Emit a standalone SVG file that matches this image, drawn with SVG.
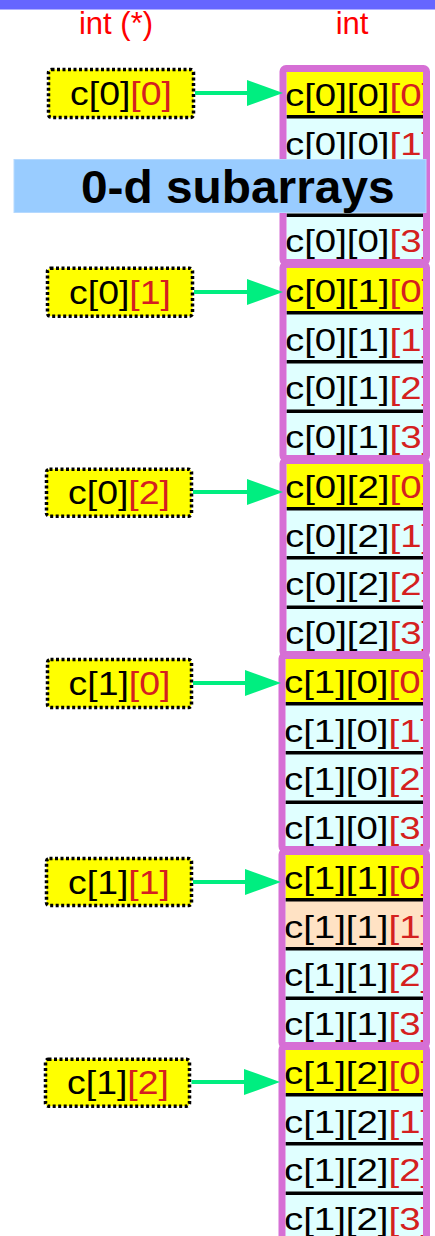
<svg xmlns="http://www.w3.org/2000/svg" width="435" height="1236" viewBox="0 0 435 1236">
<style>
text{font-family:"Liberation Sans",Arial,sans-serif}
.lbl{font-size:31px;fill:#ff0000;text-anchor:middle}
.box{fill:#ffff00;stroke:#000;stroke-width:3.5;stroke-dasharray:3 2.5}
.bt{font-size:34px;fill:#000;text-anchor:middle}
.r{fill:#d42020}
.cell{fill:#e0ffff}
.y{fill:#ffff00}
.pe{fill:#ffe2c4}
.sep{fill:#000}
.ct{font-size:32px;fill:#000}
.blk{fill:none;stroke:#d66fd5;stroke-width:7}
.arr{stroke:#00ee80;stroke-width:4;fill:none}
.title{font-size:46px;font-weight:bold;fill:#000}
</style>
<defs>
<marker id="ah" markerUnits="userSpaceOnUse" markerWidth="36" markerHeight="26" refX="1" refY="13" orient="auto">
<path d="M0,0 L36,13 L0,26 z" fill="#00ee80"/>
</marker>
<clipPath id="colclip"><rect x="0" y="0" width="423" height="1236"/></clipPath>
</defs>
<rect x="0" y="0" width="435" height="9" fill="#6666ff"/>
<rect x="0" y="9" width="435" height="1" fill="#b0b0ff"/>
<text class="lbl" x="116" y="34">int (*)</text>
<text class="lbl" x="352" y="34">int</text>

<g id="array">
<g id="blk00">
<rect class="cell" x="286.5" y="72" width="136.5" height="187"/>
<rect class="y" x="286.5" y="72" width="136.5" height="43"/>
<rect class="sep" x="286.5" y="115" width="136.5" height="3.5"/>
<rect class="sep" x="286.5" y="164" width="136.5" height="3.5"/>
<rect class="sep" x="286.5" y="213.5" width="136.5" height="3.5"/>
<g clip-path="url(#colclip)">
<text class="ct" transform="translate(285 106) scale(1.2 1)">c[0][0]<tspan class="r">[0]</tspan></text>
<text class="ct" transform="translate(285 154.5) scale(1.2 1)">c[0][0]<tspan class="r">[1]</tspan></text>
<text class="ct" transform="translate(285 203) scale(1.2 1)">c[0][0]<tspan class="r">[2]</tspan></text>
<text class="ct" transform="translate(285 251.5) scale(1.2 1)">c[0][0]<tspan class="r">[3]</tspan></text>
</g>
<rect class="blk" x="283" y="68.5" width="143.5" height="194" rx="3"/>
</g>
<g id="blk01">
<rect class="cell" x="286.5" y="268" width="136.5" height="187"/>
<rect class="y" x="286.5" y="268" width="136.5" height="43"/>
<rect class="sep" x="286.5" y="311" width="136.5" height="3.5"/>
<rect class="sep" x="286.5" y="360" width="136.5" height="3.5"/>
<rect class="sep" x="286.5" y="409.5" width="136.5" height="3.5"/>
<g clip-path="url(#colclip)">
<text class="ct" transform="translate(285 302) scale(1.2 1)">c[0][1]<tspan class="r">[0]</tspan></text>
<text class="ct" transform="translate(285 350.5) scale(1.2 1)">c[0][1]<tspan class="r">[1]</tspan></text>
<text class="ct" transform="translate(285 399) scale(1.2 1)">c[0][1]<tspan class="r">[2]</tspan></text>
<text class="ct" transform="translate(285 447.5) scale(1.2 1)">c[0][1]<tspan class="r">[3]</tspan></text>
</g>
<rect class="blk" x="283" y="264.5" width="143.5" height="194" rx="3"/>
</g>
<g id="blk02">
<rect class="cell" x="286.5" y="464" width="136.5" height="187"/>
<rect class="y" x="286.5" y="464" width="136.5" height="43"/>
<rect class="sep" x="286.5" y="507" width="136.5" height="3.5"/>
<rect class="sep" x="286.5" y="556" width="136.5" height="3.5"/>
<rect class="sep" x="286.5" y="605.5" width="136.5" height="3.5"/>
<g clip-path="url(#colclip)">
<text class="ct" transform="translate(285 498) scale(1.2 1)">c[0][2]<tspan class="r">[0]</tspan></text>
<text class="ct" transform="translate(285 546.5) scale(1.2 1)">c[0][2]<tspan class="r">[1]</tspan></text>
<text class="ct" transform="translate(285 595) scale(1.2 1)">c[0][2]<tspan class="r">[2]</tspan></text>
<text class="ct" transform="translate(285 643.5) scale(1.2 1)">c[0][2]<tspan class="r">[3]</tspan></text>
</g>
<rect class="blk" x="283" y="460.5" width="143.5" height="194" rx="3"/>
</g>
<g id="blk10">
<rect class="cell" x="285.5" y="659" width="137.5" height="187"/>
<rect class="y" x="285.5" y="659" width="137.5" height="43"/>
<rect class="sep" x="285.5" y="702" width="137.5" height="3.5"/>
<rect class="sep" x="285.5" y="751" width="137.5" height="3.5"/>
<rect class="sep" x="285.5" y="800.5" width="137.5" height="3.5"/>
<g clip-path="url(#colclip)">
<text class="ct" transform="translate(284 693) scale(1.2 1)">c[1][0]<tspan class="r">[0]</tspan></text>
<text class="ct" transform="translate(284 741.5) scale(1.2 1)">c[1][0]<tspan class="r">[1]</tspan></text>
<text class="ct" transform="translate(284 790) scale(1.2 1)">c[1][0]<tspan class="r">[2]</tspan></text>
<text class="ct" transform="translate(284 838.5) scale(1.2 1)">c[1][0]<tspan class="r">[3]</tspan></text>
</g>
<rect class="blk" x="282" y="655.5" width="144.5" height="194" rx="3"/>
</g>
<g id="blk11">
<rect class="cell" x="285.5" y="855" width="137.5" height="187"/>
<rect class="y" x="285.5" y="855" width="137.5" height="43"/>
<rect class="pe" x="285.5" y="898" width="137.5" height="49"/>
<rect class="sep" x="285.5" y="898" width="137.5" height="3.5"/>
<rect class="sep" x="285.5" y="947" width="137.5" height="3.5"/>
<rect class="sep" x="285.5" y="996.5" width="137.5" height="3.5"/>
<g clip-path="url(#colclip)">
<text class="ct" transform="translate(284 889) scale(1.2 1)">c[1][1]<tspan class="r">[0]</tspan></text>
<text class="ct" transform="translate(284 937.5) scale(1.2 1)">c[1][1]<tspan class="r">[1]</tspan></text>
<text class="ct" transform="translate(284 986) scale(1.2 1)">c[1][1]<tspan class="r">[2]</tspan></text>
<text class="ct" transform="translate(284 1034.5) scale(1.2 1)">c[1][1]<tspan class="r">[3]</tspan></text>
</g>
<rect class="blk" x="282" y="851.5" width="144.5" height="194" rx="3"/>
</g>
<g id="blk12">
<rect class="cell" x="285.5" y="1050" width="137.5" height="187"/>
<rect class="y" x="285.5" y="1050" width="137.5" height="43"/>
<rect class="sep" x="285.5" y="1093" width="137.5" height="3.5"/>
<rect class="sep" x="285.5" y="1142" width="137.5" height="3.5"/>
<rect class="sep" x="285.5" y="1191.5" width="137.5" height="3.5"/>
<g clip-path="url(#colclip)">
<text class="ct" transform="translate(284 1084) scale(1.2 1)">c[1][2]<tspan class="r">[0]</tspan></text>
<text class="ct" transform="translate(284 1132.5) scale(1.2 1)">c[1][2]<tspan class="r">[1]</tspan></text>
<text class="ct" transform="translate(284 1181) scale(1.2 1)">c[1][2]<tspan class="r">[2]</tspan></text>
<text class="ct" transform="translate(284 1229.5) scale(1.2 1)">c[1][2]<tspan class="r">[3]</tspan></text>
</g>
<rect class="blk" x="282" y="1046.5" width="144.5" height="194" rx="3"/>
</g>
</g>

<g id="p00"><rect class="box" x="48.5" y="69.5" width="145" height="48" rx="3"/><text class="bt" transform="translate(121 105) scale(1.1 1)">c[0]<tspan class="r">[0]</tspan></text></g>
<g id="p01"><rect class="box" x="47.5" y="268.2" width="145" height="48" rx="3"/><text class="bt" transform="translate(120 304) scale(1.1 1)">c[0]<tspan class="r">[1]</tspan></text></g>
<g id="p02"><rect class="box" x="46.5" y="469.2" width="145" height="47" rx="3"/><text class="bt" transform="translate(119 504) scale(1.1 1)">c[0]<tspan class="r">[2]</tspan></text></g>
<g id="p10"><rect class="box" x="47.5" y="659.5" width="144" height="48" rx="3"/><text class="bt" transform="translate(119.5 695) scale(1.1 1)">c[1]<tspan class="r">[0]</tspan></text></g>
<g id="p11"><rect class="box" x="46.5" y="858.5" width="145" height="47" rx="3"/><text class="bt" transform="translate(119 894) scale(1.1 1)">c[1]<tspan class="r">[1]</tspan></text></g>
<g id="p12"><rect class="box" x="45.5" y="1059.2" width="144" height="47" rx="3"/><text class="bt" transform="translate(118 1094) scale(1.1 1)">c[1]<tspan class="r">[2]</tspan></text></g>

<g id="connectors">
<line class="arr" x1="195" y1="93" x2="248" y2="93" marker-end="url(#ah)"/>
<line class="arr" x1="194" y1="292" x2="248" y2="292" marker-end="url(#ah)"/>
<line class="arr" x1="193" y1="492" x2="248" y2="492" marker-end="url(#ah)"/>
<line class="arr" x1="193" y1="683" x2="246" y2="683" marker-end="url(#ah)"/>
<line class="arr" x1="193" y1="882" x2="246" y2="882" marker-end="url(#ah)"/>
<line class="arr" x1="191.5" y1="1082" x2="245" y2="1082" marker-end="url(#ah)"/>
</g>

<g id="title">
<rect x="14" y="159.5" width="412" height="53" fill="#99ccff" stroke="#b5d9ff" stroke-width="1"/>
<text class="title" transform="translate(81 203.3) scale(1.04 1)">0-d subarrays</text>
</g>
</svg>
